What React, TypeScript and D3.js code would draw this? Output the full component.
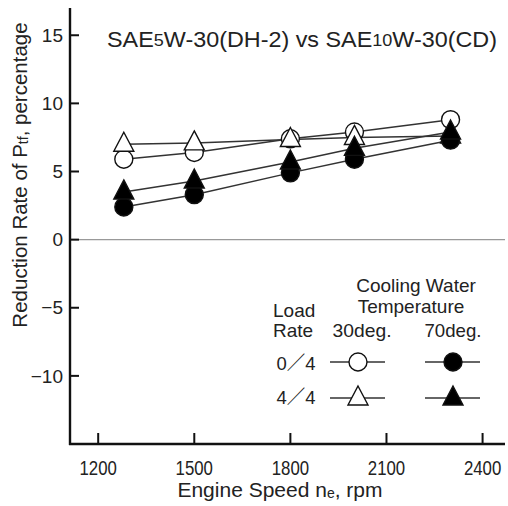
import React from "react";
import * as d3 from "d3";

const speeds = [1280, 1500, 1800, 2000, 2300];
const load0_30 = [5.9, 6.4, 7.4, 7.9, 8.8];
const load4_30 = [7.0, 7.1, 7.35, 7.5, 7.6];
const load0_70 = [2.4, 3.3, 4.9, 5.9, 7.3];
const load4_70 = [3.5, 4.3, 5.7, 6.7, 7.9];
const xTicks = [1200, 1500, 1800, 2100, 2400];
const yTicks = [15, 10, 5, 0, -5, -10];

const W = 508, H = 506;
const x = d3.scaleLinear().domain([1112, 2470]).range([70, 505]);
const y = d3.scaleLinear().domain([-15, 17]).range([444, 8]);

const FONT = "'Liberation Sans', Arial, 'Noto Sans CJK JP', sans-serif";

type Series = { vals: number[]; shape: "circle" | "triangle"; filled: boolean };
const series: Series[] = [
  { vals: load0_30, shape: "circle", filled: false },
  { vals: load4_30, shape: "triangle", filled: false },
  { vals: load0_70, shape: "circle", filled: true },
  { vals: load4_70, shape: "triangle", filled: true },
];

function Marker({ cx, cy, shape, filled }: { cx: number; cy: number; shape: string; filled: boolean }) {
  const fill = filled ? "#000" : "#fff";
  if (shape === "circle") {
    return <circle cx={cx} cy={cy} r={9} fill={fill} stroke="#111" strokeWidth={1.4} />;
  }
  const p = `M${cx},${cy - 12} L${cx + 10},${cy + 7} L${cx - 10},${cy + 7} Z`;
  return <path d={p} fill={fill} stroke="#111" strokeWidth={1.4} strokeLinejoin="miter" />;
}

export default function App() {
  const line = d3
    .line<number>()
    .x((_, i) => x(speeds[i]))
    .y((d) => y(d));
  return (
    <svg width={W} height={H} style={{ position: "absolute", left: 0, top: 0, background: "#fff" }} fontFamily={FONT}>
      <rect width={W} height={H} fill="#fff" />
      <line x1={x(1112)} x2={505} y1={y(0)} y2={y(0)} stroke="#999" strokeWidth={1.2} />
      <line x1={70} x2={70} y1={8} y2={445} stroke="#111" strokeWidth={2.4} />
      <line x1={69} x2={505} y1={444} y2={444} stroke="#111" strokeWidth={2.4} />
      {yTicks.map((t) => (
        <g key={t}>
          <line x1={70} x2={79} y1={y(t)} y2={y(t)} stroke="#111" strokeWidth={2} />
          <text x={63} y={y(t)} dy="0.35em" textAnchor="end" fontSize={19} fill="#222">
            {t < 0 ? `\u2212${-t}` : t}
          </text>
        </g>
      ))}
      {xTicks.map((t) => (
        <g key={t}>
          <line x1={x(t)} x2={x(t)} y1={444} y2={433} stroke="#111" strokeWidth={2} />
          <text transform={`translate(${x(t)},475) scale(0.8,1)`} textAnchor="middle" fontSize={21} fill="#222">
            {t}
          </text>
        </g>
      ))}
      <text x={280} y={497} textAnchor="middle" fontSize={21} fill="#222">
        Engine Speed n<tspan fontSize={14} dy={1}>e</tspan>
        <tspan dy={-1}>, rpm</tspan>
      </text>
      <text transform={`translate(27,175) rotate(-90)`} textAnchor="middle" fontSize={20.5} fill="#222">
        Reduction Rate of P<tspan fontSize={14} dy={1}>tf</tspan>
        <tspan dy={-1}>, percentage</tspan>
      </text>
      <text x={107} y={47} fontSize={22} fill="#222" textLength={390} lengthAdjust="spacingAndGlyphs">
        SAE<tspan fontSize={17} dy={-1}>5</tspan>
        <tspan dy={1}>W-30(DH-2) vs SAE</tspan>
        <tspan fontSize={17} dy={-1}>10</tspan>
        <tspan dy={1}>W-30(CD)</tspan>
      </text>
      {series.map((s, i) => (
        <path key={"l" + i} d={line(s.vals) || ""} fill="none" stroke="#333" strokeWidth={1.5} />
      ))}
      {series.map((s, i) => (
        <g key={"m" + i}>
          {s.vals.map((v, j) => (
            <Marker key={j} cx={x(speeds[j])} cy={y(v)} shape={s.shape} filled={s.filled} />
          ))}
        </g>
      ))}
      <g fill="#222" fontSize={19}>
        <text x={416} y={292} textAnchor="middle">Cooling Water</text>
        <text x={411} y={313} textAnchor="middle">Temperature</text>
        <text x={273} y={317}>Load</text>
        <text x={273} y={337}>Rate</text>
        <text x={362} y={337} textAnchor="middle" textLength={59} lengthAdjust="spacingAndGlyphs">30deg.</text>
        <text x={453} y={337} textAnchor="middle" textLength={57} lengthAdjust="spacingAndGlyphs">70deg.</text>
        <text x={296} y={370} textAnchor="middle" textLength={39} lengthAdjust="spacingAndGlyphs">0／4</text>
        <text x={296} y={404} textAnchor="middle" textLength={39} lengthAdjust="spacingAndGlyphs">4／4</text>
      </g>
      {[
        { cx: 358, cy: 362, shape: "circle", filled: false },
        { cx: 453, cy: 362, shape: "circle", filled: true },
        { cx: 358, cy: 398, shape: "triangle", filled: false },
        { cx: 453, cy: 398, shape: "triangle", filled: true },
      ].map((m, i) => (
        <g key={"lg" + i}>
          <line x1={m.cx - 28} x2={m.cx + 27} y1={m.cy} y2={m.cy} stroke="#333" strokeWidth={1.5} />
          <Marker cx={m.cx} cy={m.cy} shape={m.shape} filled={m.filled} />
        </g>
      ))}
    </svg>
  );
}
